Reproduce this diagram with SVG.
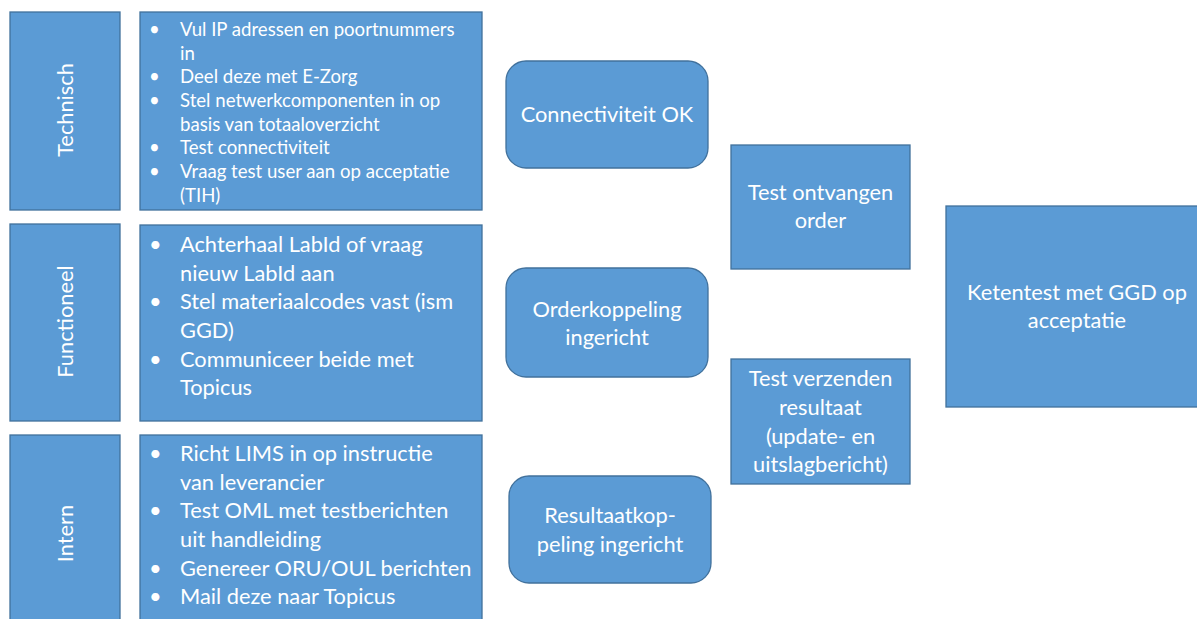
<svg xmlns="http://www.w3.org/2000/svg" width="1197" height="619" viewBox="0 0 1197 619">
<style>
.box{fill:#5B9BD5;stroke:#41719C;stroke-width:1.3}
text{font-family:Lato,"Noto Sans",sans-serif;fill:#fff}
.s{font-size:18.6px}
.m{font-size:21.8px}
.c{text-anchor:middle}
</style>
<rect width="1197" height="619" fill="#fff"/>
<g id="technisch">
<rect class="box" x="10" y="12" width="110" height="198"/>
<text class="m c" transform="translate(73,110) rotate(-90)">Technisch</text>
</g>
<g id="technisch-list">
<rect class="box" x="140" y="12" width="342" height="198"/>
<text class="s">
<tspan x="149" y="36">•</tspan><tspan x="180" y="36">Vul IP adressen en poortnummers</tspan>
<tspan x="180" y="59.5">in</tspan>
<tspan x="149" y="83">•</tspan><tspan x="180" y="83">Deel deze met E-Zorg</tspan>
<tspan x="149" y="107">•</tspan><tspan x="180" y="107">Stel netwerkcomponenten in op</tspan>
<tspan x="180" y="130.5">basis van totaaloverzicht</tspan>
<tspan x="149" y="154">•</tspan><tspan x="180" y="154">Test connectiviteit</tspan>
<tspan x="149" y="178">•</tspan><tspan x="180" y="178">Vraag test user aan op acceptatie</tspan>
<tspan x="180" y="201.5">(TIH)</tspan>
</text>
</g>
<g id="functioneel">
<rect class="box" x="10" y="224" width="110" height="197"/>
<text class="m c" transform="translate(73,321.5) rotate(-90)">Functioneel</text>
</g>
<g id="functioneel-list">
<rect class="box" x="140" y="225" width="342" height="196"/>
<text class="m">
<tspan x="149" y="252">•</tspan><tspan x="180" y="252">Achterhaal LabId of vraag</tspan>
<tspan x="180" y="280.5">nieuw LabId aan</tspan>
<tspan x="149" y="309">•</tspan><tspan x="180" y="309">Stel materiaalcodes vast (ism</tspan>
<tspan x="180" y="338">GGD)</tspan>
<tspan x="149" y="366.5">•</tspan><tspan x="180" y="366.5">Communiceer beide met</tspan>
<tspan x="180" y="395">Topicus</tspan>
</text>
</g>
<g id="intern">
<rect class="box" x="10" y="435" width="110" height="190"/>
<text class="m c" transform="translate(73,533.5) rotate(-90)">Intern</text>
</g>
<g id="intern-list">
<rect class="box" x="140" y="435" width="342" height="190"/>
<text class="m">
<tspan x="149" y="461">•</tspan><tspan x="180" y="461">Richt LIMS in op instructie</tspan>
<tspan x="180" y="489.5">van leverancier</tspan>
<tspan x="149" y="518">•</tspan><tspan x="180" y="518">Test OML met testberichten</tspan>
<tspan x="180" y="547">uit handleiding</tspan>
<tspan x="149" y="575.5">•</tspan><tspan x="180" y="575.5">Genereer ORU/OUL berichten</tspan>
<tspan x="149" y="604">•</tspan><tspan x="180" y="604">Mail deze naar Topicus</tspan>
</text>
</g>
<g id="connectiviteit-ok">
<rect class="box" x="506" y="61" width="202" height="107" rx="20"/>
<text class="m c" x="607" y="122">Connectiviteit OK</text>
</g>
<g id="orderkoppeling">
<rect class="box" x="506" y="268" width="202" height="109" rx="20"/>
<text class="m c"><tspan x="607" y="317">Orderkoppeling</tspan><tspan x="607" y="345">ingericht</tspan></text>
</g>
<g id="resultaatkoppeling">
<rect class="box" x="509" y="476" width="202" height="107" rx="20"/>
<text class="m c"><tspan x="610" y="523">Resultaatkop-</tspan><tspan x="610" y="552">peling ingericht</tspan></text>
</g>
<g id="test-ontvangen">
<rect class="box" x="731" y="145" width="179" height="124"/>
<text class="m c"><tspan x="820.5" y="200">Test ontvangen</tspan><tspan x="820.5" y="228">order</tspan></text>
</g>
<g id="test-verzenden">
<rect class="box" x="731" y="359" width="179" height="125"/>
<text class="m c"><tspan x="820.5" y="386">Test verzenden</tspan><tspan x="820.5" y="415">resultaat</tspan><tspan x="820.5" y="443.5">(update- en</tspan><tspan x="820.5" y="472">uitslagbericht)</tspan></text>
</g>
<g id="ketentest">
<rect class="box" x="946" y="206" width="260" height="201"/>
<text class="m c"><tspan x="1077" y="300">Ketentest met GGD op</tspan><tspan x="1077" y="328">acceptatie</tspan></text>
</g>
<g id="connectors"/>
</svg>
